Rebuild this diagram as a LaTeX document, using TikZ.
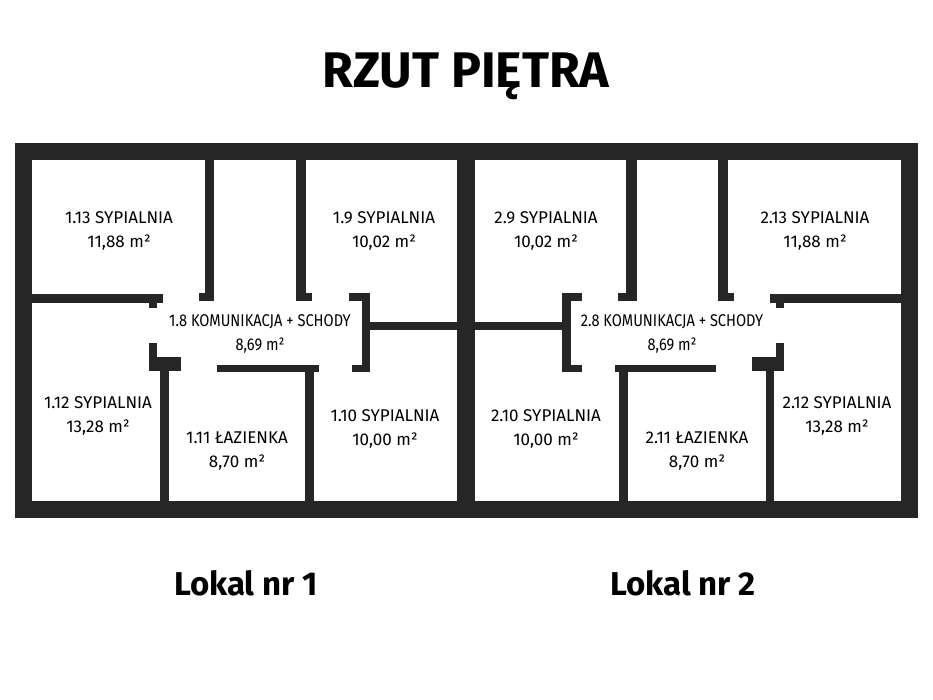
\documentclass[tikz,border=0pt]{standalone}
\usepackage{fontspec}
\setmainfont{Fira Sans}
\tikzset{
    wall/.style = {
        fill = black!85,
        },
    room/.style = {
        align = center,
        font = \fontsize{17}{24}\selectfont,
        },
    hall/.style = {
        room,
        xscale = 0.86,
        },
    title/.style = {
        font = \fontsize{50}{56}\selectfont\bfseries,
        },
    lokal/.style = {
        font = \fontsize{33}{38}\selectfont\bfseries,
        },
}
\newcommand{\wallbox}[4]{\fill[wall] (#1,#2) rectangle (#3,#4);}

\begin{document}
\begin{tikzpicture}[x=1pt, y=-1pt]
    \useasboundingbox (0,0) rectangle (933,700);

    % outline
    \fill[wall] (15,143) rectangle (918,518);
    \fill[white] (32,160) rectangle (457,501);
    \fill[white] (475,160) rectangle (901,501);

    % lokal 1
    \wallbox{205}{160}{214}{301}
    \wallbox{199}{293}{214}{301}
    \wallbox{296}{160}{306}{301}
    \wallbox{296}{293}{312}{301}
    \wallbox{32}{294}{163}{303}
    \wallbox{149}{303}{157}{308}
    \wallbox{362}{293}{370}{372}
    \wallbox{349}{293}{370}{301}
    \wallbox{352}{365}{370}{372}
    \wallbox{370}{322}{457}{330}
    \wallbox{149}{343}{157}{371}
    \wallbox{149}{357}{181}{371}
    \wallbox{160}{371}{169}{501}
    \wallbox{217}{365}{319}{372}
    \wallbox{305}{365}{314}{501}

    % lokal 2
    \wallbox{626}{160}{637}{301}
    \wallbox{618}{293}{637}{301}
    \wallbox{718}{160}{728}{301}
    \wallbox{718}{293}{734}{301}
    \wallbox{562}{293}{571}{372}
    \wallbox{562}{293}{582}{301}
    \wallbox{562}{365}{582}{372}
    \wallbox{475}{322}{562}{330}
    \wallbox{770}{294}{901}{303}
    \wallbox{776}{303}{784}{308}
    \wallbox{776}{343}{784}{371}
    \wallbox{752}{357}{784}{371}
    \wallbox{766}{371}{774}{501}
    \wallbox{615}{365}{716}{372}
    \wallbox{619}{365}{628}{501}

    % labels
    \node[title] (tytul) at (466,76) {RZUT PIĘTRA};
    \node[lokal] (lokal1) at (246,583) {Lokal nr 1};
    \node[lokal] (lokal2) at (683,583) {Lokal nr 2};

    \node[room] (r113) at (119,231) {1.13 SYPIALNIA\\11,88 m²};
    \node[room] (r19) at (384,231) {1.9 SYPIALNIA\\10,02 m²};
    \node[hall] (r18) at (260,334) {1.8 KOMUNIKACJA + SCHODY\\8,69 m²};
    \node[room] (r112) at (98,416) {1.12 SYPIALNIA\\13,28 m²};
    \node[room] (r111) at (237,451) {1.11 ŁAZIENKA\\8,70 m²};
    \node[room] (r110) at (385,429) {1.10 SYPIALNIA\\10,00 m²};

    \node[room] (r29) at (546,231) {2.9 SYPIALNIA\\10,02 m²};
    \node[room] (r213) at (815,231) {2.13 SYPIALNIA\\11,88 m²};
    \node[hall] (r28) at (672,334) {2.8 KOMUNIKACJA + SCHODY\\8,69 m²};
    \node[room] (r210) at (546,429) {2.10 SYPIALNIA\\10,00 m²};
    \node[room] (r211) at (697,451) {2.11 ŁAZIENKA\\8,70 m²};
    \node[room] (r212) at (837,416) {2.12 SYPIALNIA\\13,28 m²};
\end{tikzpicture}
\end{document}
